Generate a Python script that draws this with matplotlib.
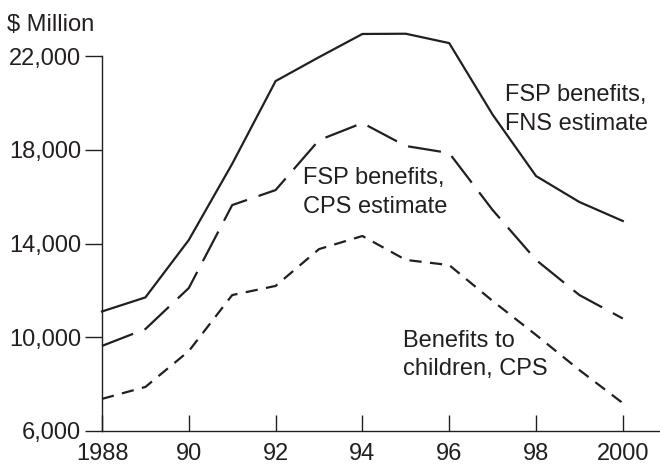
import matplotlib
matplotlib.use("Agg")
import matplotlib.pyplot as plt

plt.rcParams["font.family"] = ["Liberation Sans", "DejaVu Sans"]

years = [1988, 1989, 1990, 1991, 1992, 1993, 1994, 1995, 1996, 1997, 1998, 1999, 2000]
fns_benefits = [11100, 11700, 14150, 17400, 20930, 21950, 22940, 22950, 22550, 19500, 16880, 15770, 14960]
cps_benefits = [9630, 10350, 12100, 15640, 16280, 18410, 19140, 18160, 17860, 15430, 13300, 11800, 10800]
child_benefits = [7370, 7880, 9410, 11800, 12190, 13760, 14320, 13300, 13080, 11550, 10100, 8600, 7190]

x_ticks = [1988, 1990, 1992, 1994, 1996, 1998, 2000]
x_labels = ["1988", "90", "92", "94", "96", "98", "2000"]
y_ticks = [6000, 10000, 14000, 18000, 22000]
y_labels = ["6,000", "10,000", "14,000", "18,000", "22,000"]

ink = "#231f20"

fig = plt.figure(figsize=(6.6, 4.66), dpi=100)
ax = fig.add_axes([102 / 660, 35 / 466, 1 - 102 / 660, 375 / 466])

lw = 1.6
ax.plot(years, fns_benefits, color=ink, lw=lw, clip_on=False)
ax.plot(years, cps_benefits, color=ink, lw=lw, dashes=(15, 5.5), clip_on=False)
ax.plot(years, child_benefits, color=ink, lw=lw, dashes=(5.5, 3.8), clip_on=False)

ax.set_xlim(1988, 1988 + 558 / 43.4)
ax.set_ylim(6000, 22000)

for side in ["top", "right"]:
    ax.spines[side].set_visible(False)
for side in ["left", "bottom"]:
    ax.spines[side].set_color(ink)
    ax.spines[side].set_linewidth(1.0)

ax.set_xticks(x_ticks)
ax.set_xticklabels(x_labels)
ax.set_yticks(y_ticks)
ax.set_yticklabels(y_labels)
ax.tick_params(axis="x", direction="in", length=11.5, width=1.0, pad=8.5,
               labelsize=17, colors=ink)
ax.tick_params(axis="y", direction="out", length=12, width=1.0, pad=3,
               labelsize=17, colors=ink)
ax.patch.set_visible(False)

ax.text(1997.29, 20800, "FSP benefits,\nFNS estimate", fontsize=17, color=ink,
        va="top", ha="left", linespacing=1.4)
ax.text(1992.63, 17250, "FSP benefits,\nCPS estimate", fontsize=17, color=ink,
        va="top", ha="left", linespacing=1.4)
ax.text(1994.94, 10330, "Benefits to\nchildren, CPS", fontsize=17, color=ink,
        va="top", ha="left", linespacing=1.4)

fig.text(7 / 660, 1 - 31 / 466, "$ Million", fontsize=17, color=ink,
         ha="left", va="baseline")

fig.savefig("out.png", dpi=100)
